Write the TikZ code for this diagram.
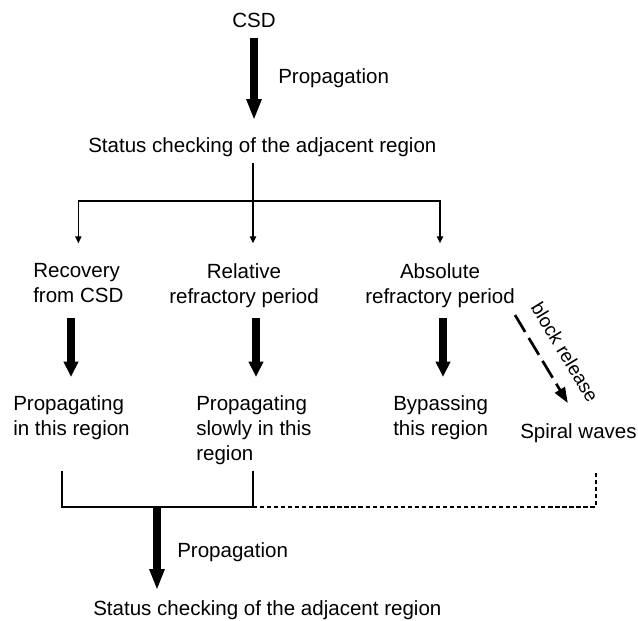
\documentclass[tikz,border=0pt]{standalone}
\usepackage{fontspec}
\setmainfont{Liberation Sans}
\usetikzlibrary{arrows.meta,positioning}

\begin{document}
\begin{tikzpicture}[x=0.025cm,y=-0.025cm,
  every node/.style={inner sep=0pt,font=\fontsize{14.6}{17.8}\selectfont},
  thin line/.style={line width=0.9pt,line cap=rect},
  thin arrow/.style={line width=0.9pt,-{Triangle[width=4.5pt,length=5pt]}},
  big arrow/.style={line width=5pt,-{Triangle[width=10pt,length=15pt]}},
  row arrow/.style={line width=5pt,-{Triangle[width=10pt,length=11pt]},shorten <=39pt,shorten >=12.8pt},
  dash line/.style={line width=0.9pt,dash pattern=on 3pt off 2pt},
  dash arrow/.style={line width=1.9pt,dash pattern=on 14pt off 5pt,-{Triangle[width=8pt,length=11pt]}}]

  \useasboundingbox (0,0) rectangle (638,620);

  \node[anchor=north] (csd) at (254,13) {CSD};
  \node[anchor=north west] (prop1) at (278,68) {Propagation};
  \node[anchor=north west] (status1) at (88,137) {Status checking of the adjacent region};
  \node[anchor=north west,align=left] (rec) at (33,263) {Recovery\\from CSD};
  \node[anchor=north,align=center] (rel) at (244,263) {Relative\\refractory period};
  \node[anchor=north,align=center] (absol) at (440,263) {Absolute\\refractory period};
  \node[anchor=north west,align=left] (propin) at (13,395) {Propagating\\in this region};
  \node[anchor=north west,align=left] (propslow) at (196,395) {Propagating\\slowly in this\\region};
  \node[anchor=north west,align=left] (bypass) at (393,395) {Bypassing\\this region};
  \node[anchor=north west] (spiral) at (520,423) {Spiral waves};
  \node[anchor=north west] (prop2) at (177,542) {Propagation};
  \node[anchor=north west] (status2) at (93,600) {Status checking of the adjacent region};
  \node[rotate=-58.9,font=\fontsize{13.5}{16}\selectfont] (blocklbl) at (565,352) {block release};

  \coordinate (fork) at (253,201);
  \coordinate (c1) at (71,0);
  \coordinate (c2) at (256,0);
  \coordinate (c3) at (443,0);
  \coordinate (b1) at (62,472);
  \coordinate (b2) at (253,472);
  \coordinate (b3) at (596,472);
  \coordinate (join) at (157,507);

  \draw[big arrow,shorten <=7pt,shorten >=12pt] (csd.south) -- (csd.south |- status1.north);
  \draw[thin line,shorten <=8.5pt] (status1.base -| fork) -- (fork);
  \draw[thin line] (fork -| rec) -- (fork -| absol);
  \draw[thin arrow,shorten >=14pt] (fork -| rec) -- (rec.north);
  \draw[thin arrow,shorten >=14pt] (fork) -- (fork |- rel.north);
  \draw[thin arrow,shorten >=14pt] (fork -| absol) -- (absol.north);

  \draw[row arrow] (c1 |- rec.north) -- (c1 |- propin.north);
  \draw[row arrow] (c2 |- rel.north) -- (c2 |- propslow.north);
  \draw[row arrow] (c3 |- absol.north) -- (c3 |- bypass.north);
  \draw[dash arrow] ([yshift=-37pt]absol.north east) -- ([xshift=34pt,yshift=14.2pt]spiral.north west);

  \draw[thin line] (b1) |- (b2 |- join) -- (b2);
  \draw[dash line] (b2 |- join) -| (b3);
  \draw[big arrow,shorten >=7pt] (join) -- (join |- status2.north);

\end{tikzpicture}
\end{document}
